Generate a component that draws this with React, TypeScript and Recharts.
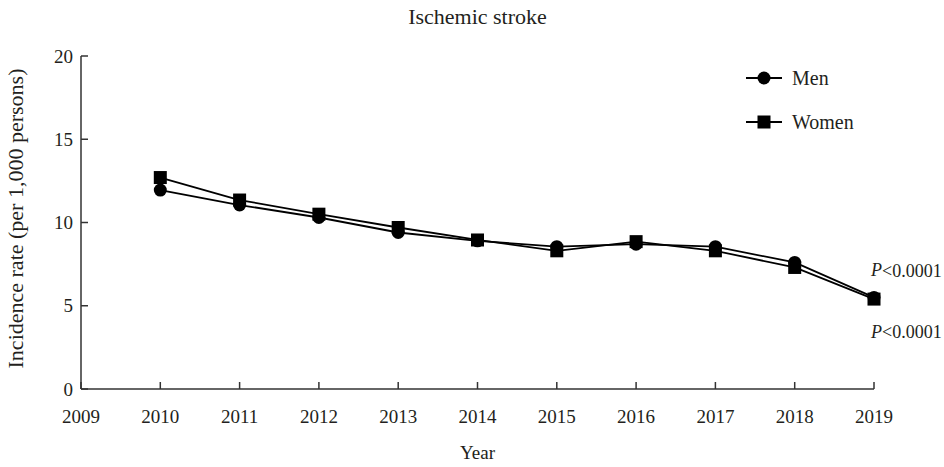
import React from "react";
import { LineChart, Line, XAxis, YAxis, LabelList } from "recharts";

const years = [2010, 2011, 2012, 2013, 2014, 2015, 2016, 2017, 2018, 2019];
const menRates = [11.95, 11.05, 10.3, 9.4, 8.9, 8.55, 8.7, 8.55, 7.6, 5.5];
const womenRates = [12.7, 11.35, 10.5, 9.7, 8.95, 8.3, 8.85, 8.3, 7.3, 5.4];
const xTicks = [2009, 2010, 2011, 2012, 2013, 2014, 2015, 2016, 2017, 2018, 2019];
const yTicks = [0, 5, 10, 15, 20];
const seriesNames = ["Men", "Women"];
const pValueText = "<0.0001";

const FONT = "'Liberation Serif', 'DejaVu Serif', serif";
const INK = "#231f20";

const data = years.map((year, i) => ({
  year,
  men: menRates[i],
  women: womenRates[i],
}));

const SquareDot = (props: any) => {
  const { cx, cy } = props;
  if (cx == null || cy == null) return null;
  return <rect x={cx - 6.5} y={cy - 6.5} width={13} height={13} fill="#000" />;
};

const CircleDot = (props: any) => {
  const { cx, cy } = props;
  if (cx == null || cy == null) return null;
  return <circle cx={cx} cy={cy} r={6.5} fill="#000" />;
};

// p-value note next to the final year's point
const pLabel = (dy: number) => (props: any) => {
  const { x, y, index } = props;
  if (index !== years.length - 1) return null;
  return (
    <text
      x={x - 3}
      y={y + dy}
      fontFamily={FONT}
      fontSize={18}
      fill={INK}
      dominantBaseline="middle"
    >
      <tspan fontStyle="italic">P</tspan>
      {pValueText}
    </text>
  );
};

// hand-built legend in the top right corner
const LegendBox = () => (
  <div
    style={{
      position: "absolute",
      left: 746,
      top: 66,
      fontFamily: FONT,
      fontSize: 20,
      color: INK,
    }}
  >
    {seriesNames.map((name, i) => (
      <div
        key={name}
        style={{ display: "flex", alignItems: "center", height: 24, marginBottom: i === 0 ? 20 : 0 }}
      >
        <svg width={46} height={24}>
          <line x1={0} y1={12} x2={36} y2={12} stroke="#000" strokeWidth={2} />
          {i === 0 ? (
            <circle cx={18} cy={12} r={6.5} fill="#000" />
          ) : (
            <rect x={11.5} y={5.5} width={13} height={13} fill="#000" />
          )}
        </svg>
        <span>{name}</span>
      </div>
    ))}
  </div>
);

export default function App() {
  return (
    <div style={{ position: "absolute", left: 0, top: 0, width: 944, height: 467, background: "#fff" }}>
      <div
        style={{
          position: "absolute",
          top: 4,
          left: 0,
          width: 955,
          textAlign: "center",
          fontFamily: FONT,
          fontSize: 22,
          color: INK,
        }}
      >
        Ischemic stroke
      </div>
      <LegendBox />
      <LineChart
        width={944}
        height={467}
        data={data}
        margin={{ top: 56, right: 70, left: 0, bottom: 0 }}
      >
        <XAxis
          dataKey="year"
          type="number"
          domain={[2009, 2019]}
          ticks={xTicks}
          interval={0}
          height={78}
          tickSize={-7}
          tickMargin={28}
          stroke="#333"
          strokeWidth={1.5}
          tick={{ fill: INK, fontFamily: FONT, fontSize: 19 }}
          label={{
            value: "Year",
            position: "insideBottom",
            offset: 8,
            fill: INK,
            fontFamily: FONT,
            fontSize: 19,
          }}
        />
        <YAxis
          domain={[0, 20]}
          ticks={yTicks}
          interval={0}
          width={81}
          tickSize={-7}
          tickMargin={15}
          stroke="#333"
          strokeWidth={1.5}
          tick={{ fill: INK, fontFamily: FONT, fontSize: 19 }}
          label={{
            content: (p: any) => {
              const vb = p.viewBox;
              const cx = vb.x + 18;
              const cy = vb.y + vb.height / 2 - 4;
              return (
                <text
                  x={cx}
                  y={cy}
                  transform={`rotate(-90 ${cx} ${cy})`}
                  textAnchor="middle"
                  dominantBaseline="middle"
                  fontFamily={FONT}
                  fontSize={22}
                  fill={INK}
                >
                  Incidence rate (per 1,000 persons)
                </text>
              );
            },
          }}
        />
        <Line
          dataKey="men"
          name="Men"
          stroke="#000"
          strokeWidth={1.8}
          dot={<CircleDot />}
          activeDot={false}
          isAnimationActive={false}
        >
          <LabelList dataKey="men" content={pLabel(-25)} />
        </Line>
        <Line
          dataKey="women"
          name="Women"
          stroke="#000"
          strokeWidth={1.8}
          dot={<SquareDot />}
          activeDot={false}
          isAnimationActive={false}
        >
          <LabelList dataKey="women" content={pLabel(35)} />
        </Line>
      </LineChart>
    </div>
  );
}
